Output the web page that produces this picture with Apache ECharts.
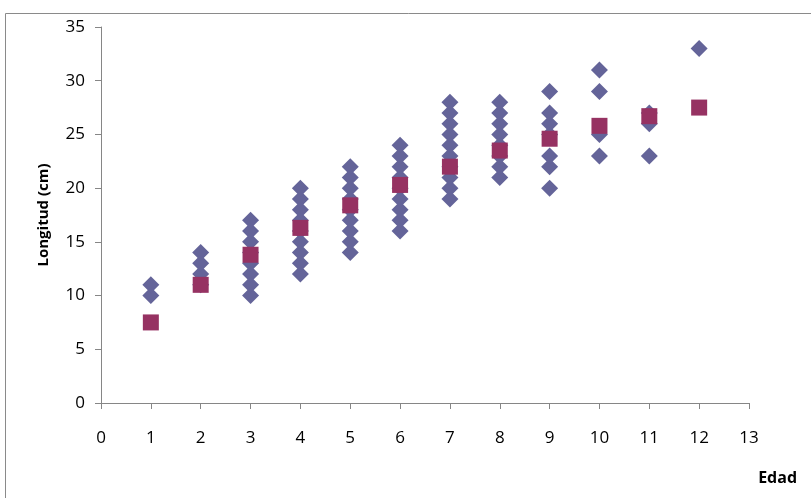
<!DOCTYPE html>
<html>
<head lang="es">
    <meta charset="UTF-8"/>
    <title>Longitud vs Edad</title>
    <script src="https://cdn.jsdelivr.net/npm/echarts@6/dist/echarts.min.js"></script>
    <style>
        html, body { margin: 0; padding: 0; background: #fff; }
        #chart { width: 811px; height: 498px; }
    </style>
</head>
<body>
<div id="chart"></div>
<script>
    // datos
    var edades = [1, 2, 3, 4, 5, 6, 7, 8, 9, 10, 11, 12];
    var longitudes = [
        [10, 11],
        [11, 12, 13, 14],
        [10, 11, 12, 13, 14, 15, 16, 17],
        [12, 13, 14, 15, 16, 17, 18, 19, 20],
        [14, 15, 16, 17, 18, 19, 20, 21, 22],
        [16, 17, 18, 19, 20, 21, 22, 23, 24],
        [19, 20, 21, 22, 23, 24, 25, 26, 27, 28],
        [21, 22, 23, 24, 25, 26, 27, 28],
        [20, 22, 23, 25, 26, 27, 29],
        [23, 25, 29, 31],
        [23, 26, 27],
        [33]
    ];
    var medias = [7.5, 11, 13.8, 16.3, 18.4, 20.3, 22, 23.5, 24.6, 25.8, 26.7, 27.5];

    var puntos = [];
    edades.forEach(function (e, i) {
        longitudes[i].forEach(function (v) {
            puntos.push([e, v]);
        });
    });
    var puntosMedia = edades.map(function (e, i) {
        return [e, medias[i]];
    });

    var chart = echarts.init(document.getElementById('chart'));
    var fuente = '"Open Sans", "Noto Sans", sans-serif';
    var option = {
        animation: false,
        textStyle: { fontFamily: fuente },
        grid: { left: 101, right: 62, top: 27, bottom: 95 },
        graphic: [{
            type: 'rect',
            shape: { x: 5.5, y: 13.5, width: 900, height: 600 },
            style: { fill: 'none', stroke: '#8a8a8a', lineWidth: 1 },
            silent: true
        }, {
            type: 'text',
            right: 14,
            bottom: 12,
            style: { text: 'Edad', fontFamily: fuente, fontWeight: 'bold', fontSize: 16, fill: '#000' }
        }],
        xAxis: {
            type: 'value',
            min: 0, max: 13, interval: 1,
            splitLine: { show: false },
            axisLine: { lineStyle: { color: '#868686' } },
            axisTick: { lineStyle: { color: '#868686' }, length: 6 },
            axisLabel: { color: '#000', fontSize: 17, margin: 27 }
        },
        yAxis: {
            type: 'value',
            min: 0, max: 35, interval: 5,
            name: 'Longitud (cm)',
            nameLocation: 'middle',
            nameGap: 50,
            nameTextStyle: { color: '#000', fontWeight: 'bold', fontSize: 15 },
            splitLine: { show: false },
            axisLine: { show: true, lineStyle: { color: '#868686' } },
            axisTick: { show: true, lineStyle: { color: '#868686' }, length: 6 },
            axisLabel: { color: '#000', fontSize: 17, margin: 16 }
        },
        series: [{
            type: 'scatter',
            data: puntos,
            symbol: 'diamond',
            symbolSize: 17,
            itemStyle: { color: '#646499', opacity: 1 }
        }, {
            type: 'scatter',
            data: puntosMedia,
            symbol: 'rect',
            symbolSize: 16,
            itemStyle: { color: '#963262', opacity: 1 }
        }]
    };
    chart.setOption(option);
</script>
</body>
</html>
